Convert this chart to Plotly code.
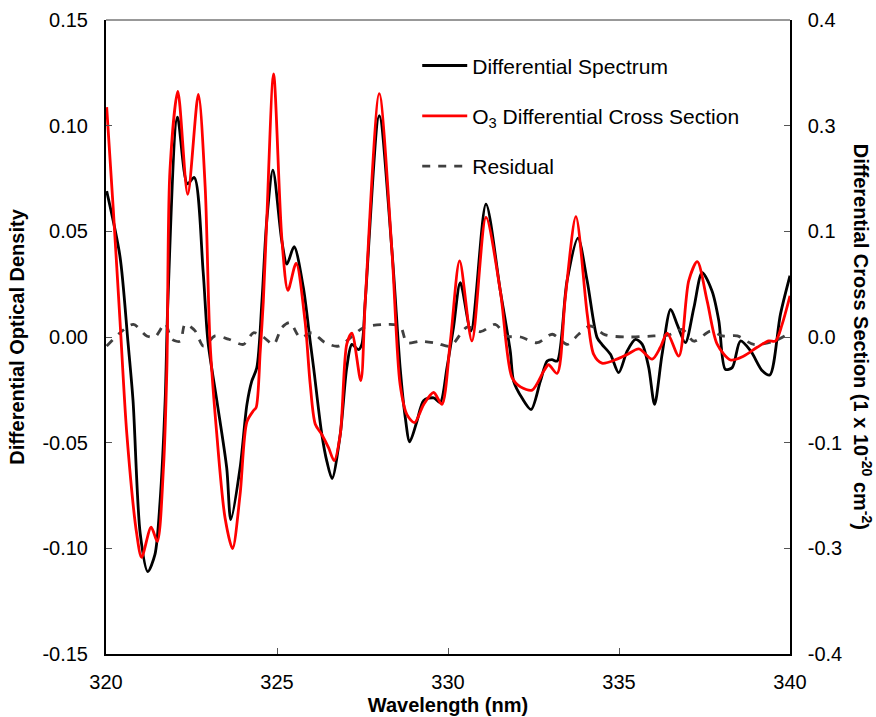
import plotly.graph_objects as go

# Differential Spectrum (left axis, optical density)
wl_spec = [320.02, 320.41, 320.64, 320.79, 321.00, 321.22, 321.43, 321.58, 321.73, 321.81,
           322.09, 322.38, 322.58, 322.84, 322.98, 323.24, 323.53, 323.65, 323.92, 324.12,
           324.26, 324.41, 324.56, 324.70, 324.88, 325.14, 325.29, 325.50, 325.77, 325.97,
           326.07, 326.31, 326.46, 326.61, 326.85, 327.04, 327.19, 327.38, 327.48, 327.58,
           327.99, 328.36, 328.60, 328.75, 328.88, 329.09, 329.29, 329.58, 329.77, 329.97,
           330.16, 330.36, 330.67, 331.11, 331.53, 331.82, 331.92, 332.17, 332.43, 332.70,
           332.90, 333.04, 333.19, 333.48, 333.80, 334.07, 334.36, 334.50, 334.75, 334.99,
           335.24, 335.48, 335.68, 335.87, 336.04, 336.26, 336.51, 336.70, 336.94, 337.19,
           337.43, 337.72, 337.92, 338.11, 338.31, 338.55, 338.85, 339.19, 339.41, 339.72, 340.00]
od_spec = [0.069, 0.038, -0.002, -0.030, -0.093, -0.111, -0.103, -0.078, -0.030, 0.017,
           0.104, 0.0725, 0.0755, 0.031, -0.002, -0.030, -0.062, -0.0864, -0.062, -0.032,
           -0.021, -0.0145, 0.017, 0.055, 0.079, 0.0455, 0.0345, 0.0427, 0.0234, -0.002,
           -0.0145, -0.046, -0.059, -0.067, -0.046, -0.0145, -0.0035, -0.006, -0.0035, 0.017,
           0.1047, 0.041, -0.0145, -0.038, -0.0496, -0.040, -0.030, -0.0288, -0.031, -0.0145,
           0.0044, 0.0257, 0.0028, 0.0629, 0.0218, -0.0066, -0.021, -0.029, -0.0343, -0.021,
           -0.0114, -0.0107, -0.0114, 0.0265, 0.0468, 0.0265, -0.0003, -0.0035, -0.0082, -0.0169,
           -0.0066, -0.0011, -0.0035, -0.0145, -0.0319, -0.0082, 0.0131, 0.006, -0.0027, 0.0139,
           0.0305, 0.0218, 0.0076, -0.0153, -0.0145, -0.0019, -0.0066, -0.016, -0.018, 0.0107, 0.029]

# O3 Differential Cross Section (right axis, 1e-20 cm^2)
wl_xs = [320.02, 320.21, 320.41, 320.61, 320.90, 321.04, 321.32, 321.50, 321.68, 321.78,
         321.87, 322.10, 322.39, 322.70, 322.90, 323.04, 323.24, 323.48, 323.70, 323.92,
         324.12, 324.31, 324.39, 324.51, 324.60, 324.70, 324.90, 325.14, 325.32, 325.56,
         325.82, 325.97, 326.12, 326.31, 326.51, 326.67, 326.85, 327.04, 327.19, 327.45,
         327.58, 327.99, 328.36, 328.60, 328.80, 329.02, 329.29, 329.58, 329.82, 330.07,
         330.34, 330.70, 331.11, 331.53, 331.87, 332.12, 332.46, 332.80, 332.94, 333.19,
         333.43, 333.74, 334.07, 334.26, 334.50, 334.94, 335.24, 335.58, 335.97, 336.21,
         336.41, 336.75, 337.04, 337.29, 337.58, 337.87, 338.26, 338.65, 339.04, 339.38,
         339.58, 339.77, 340.00]
xs_o3 = [0.290, 0.163, 0.020, -0.123, -0.249, -0.278, -0.240, -0.258, -0.165, -0.039,
         0.210, 0.310, 0.180, 0.306, 0.189, -0.005, -0.123, -0.228, -0.267, -0.199,
         -0.107, -0.093, -0.089, -0.018, 0.045, 0.147, 0.332, 0.125, 0.059, 0.093,
         0.020, -0.059, -0.110, -0.123, -0.140, -0.156, -0.123, -0.009, 0.005, -0.055,
         0.045, 0.307, 0.109, -0.060, -0.098, -0.108, -0.085, -0.070, -0.085, -0.005,
         0.096, -0.005, 0.151, 0.058, -0.051, -0.063, -0.067, -0.043, -0.035, -0.046,
         0.050, 0.152, 0.029, -0.022, -0.033, -0.028, -0.022, -0.015, -0.028, -0.013,
         0.005, -0.024, 0.071, 0.095, 0.045, -0.009, -0.029, -0.024, -0.013, -0.005,
         -0.005, 0.016, 0.052]

# Residual (left axis)
wl_res = [320.02, 320.41, 320.80, 321.19, 321.43, 321.73, 321.92, 322.17, 322.31, 322.60,
          322.85, 323.19, 323.58, 324.02, 324.31, 324.60, 324.90, 325.14, 325.38, 325.68,
          326.02, 326.41, 326.80, 327.53, 328.21, 328.60, 328.80, 329.19, 329.68, 330.07,
          330.56, 330.95, 331.38, 331.72, 332.12, 332.61, 333.05, 333.49, 333.82, 334.16,
          334.60, 335.24, 336.02, 336.46, 336.85, 337.19, 337.68, 338.02, 338.46, 338.94,
          339.53, 340.00]
od_res = [-0.0043, 0.002, 0.006, 0.0005, 0.0, 0.0063, -0.001, -0.002, 0.006, 0.003,
          -0.0043, 0.0005, -0.001, -0.0035, 0.002, 0.0, -0.0035, 0.0044, 0.0068, -0.0003,
          0.002, -0.0027, -0.0043, 0.0044, 0.006, 0.0052, -0.0027, -0.002, -0.003, -0.0043,
          0.0047, 0.0025, 0.006, 0.0005, 0.0, -0.0027, 0.0013, -0.0035, 0.0013, 0.0052,
          0.001, 0.0, 0.0005, 0.001, 0.0036, -0.002, 0.0028, 0.0005, 0.0005, -0.0035,
          -0.002, 0.002]

left_tickvals = [-0.15, -0.10, -0.05, 0.0, 0.05, 0.10, 0.15]
left_ticktext = ["-0.15", "-0.10", "-0.05", "0.00", "0.05", "0.10", "0.15"]
right_tickvals = [-0.4, -0.26667, -0.13333, 0.0, 0.13333, 0.26667, 0.4]
right_ticktext = ["-0.4", "-0.3", "-0.1", "0.0", "0.1", "0.3", "0.4"]
x_ticks = [320, 325, 330, 335, 340]

FONT = "Liberation Sans, Arial, Helvetica, sans-serif"
LW = 2.8

fig = go.Figure()
fig.add_trace(go.Scatter(x=wl_spec, y=od_spec, mode="lines", name="Differential Spectrum",
                         line=dict(color="black", width=LW, shape="spline", smoothing=0.8),
                         legendgroup="a"))
fig.add_trace(go.Scatter(x=wl_xs, y=xs_o3, mode="lines", yaxis="y2",
                         name="O<sub>3</sub> Differential Cross Section",
                         line=dict(color="#ff0000", width=LW, shape="spline", smoothing=0.8),
                         legendgroup="b"))
fig.add_trace(go.Scatter(x=wl_res, y=od_res, mode="lines", name="Residual",
                         line=dict(color="#404040", width=LW, dash="8px,8px", shape="spline", smoothing=0.8),
                         legendgroup="c"))

fig.update_layout(
    width=876, height=717,
    margin=dict(l=106, r=86, t=20, b=63),
    paper_bgcolor="white", plot_bgcolor="white",
    font=dict(family=FONT, size=20, color="black"),
    showlegend=True,
    legend=dict(x=0.455, y=0.96, xanchor="left", yanchor="top",
                bgcolor="rgba(0,0,0,0)", font=dict(size=21, family=FONT),
                tracegroupgap=20, itemwidth=45),
    xaxis=dict(range=[320, 340], tickvals=x_ticks, ticks="inside", ticklen=6,
               tickcolor="#555", showgrid=False, zeroline=False, showline=True,
               linecolor="black", linewidth=2, tickfont=dict(size=20), ticklabelstandoff=9,
               automargin=False,
               title=dict(text="<b>Wavelength (nm)</b>", font=dict(size=20), standoff=6)),
    yaxis=dict(range=[-0.15, 0.15], tickvals=left_tickvals, ticktext=left_ticktext,
               ticks="inside", ticklen=6, tickcolor="#555", showgrid=False, zeroline=False,
               showline=True, linecolor="black", linewidth=2, tickfont=dict(size=20),
               ticklabelstandoff=12, automargin=False,
               title=dict(text="<b>Differential Optical Density</b>", font=dict(size=20), standoff=12)),
    yaxis2=dict(range=[-0.4, 0.4], overlaying="y", side="right", tickvals=right_tickvals,
                ticktext=right_ticktext, ticks="inside", ticklen=6, tickcolor="#555",
                showgrid=False, zeroline=False, showline=True, linecolor="black",
                linewidth=1.5, tickfont=dict(size=20), ticklabelstandoff=12, automargin=False),
)

fig.add_shape(type="line", xref="paper", yref="paper", x0=0, x1=1, y0=1, y1=1,
              line=dict(color="#333", width=1))

fig.add_annotation(text="<b>Differential Cross Section (1 x 10<sup>-20</sup> cm<sup>-2</sup>)</b>",
                   xref="paper", yref="paper", x=1.107, y=0.5, xanchor="center", yanchor="middle",
                   textangle=90, showarrow=False, font=dict(size=20, family=FONT))

fig.write_html("out.html")
